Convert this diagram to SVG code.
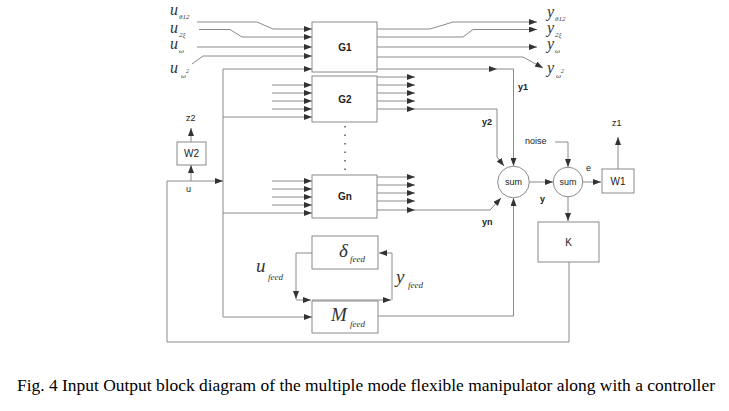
<svg xmlns="http://www.w3.org/2000/svg" width="729" height="411" viewBox="0 0 729 411">
<defs>
<marker id="ar" markerUnits="userSpaceOnUse" markerWidth="8" markerHeight="6" refX="8" refY="3" orient="auto">
<path d="M0,0 L8,3 L0,6 z" fill="#333"/>
</marker>
<style>
.ln{fill:none;stroke:#8a8a8a;stroke-width:1}
.ar{marker-end:url(#ar)}
.bx{fill:#fff;stroke:#8a8a8a;stroke-width:1}
.lb{font-family:"Liberation Sans",Arial,sans-serif;font-size:9px;fill:#222}
.gl{font-family:"Liberation Sans",Arial,sans-serif;font-size:10px;font-weight:bold;fill:#222;text-anchor:middle}
.m{font-family:"Liberation Serif","Times New Roman",serif;font-style:italic;fill:#333}
.cap{font-family:"Liberation Serif","Times New Roman",serif;font-size:17px;fill:#000}
</style>
</defs>
<rect width="729" height="411" fill="#fff"/>
<g id="connectors">
<path class="ln ar" d="M197,22 L257,22 L273,29 L312,29"/>
<path class="ln ar" d="M199,29.5 L230,29.5 L242,37 L312,37"/>
<path class="ln ar" d="M197,47 L312,47"/>
<path class="ln ar" d="M192,64 L203,56 L312,56"/>
<path class="ln ar" d="M223,69 L312,69"/>
<path class="ln" d="M223,69 L223,317"/>
<path class="ln ar" d="M223,117 L312,117"/>
<path class="ln ar" d="M223,213 L312,213"/>
<path class="ln ar" d="M223,317 L312,317"/>
<path class="ln ar" d="M167,181 L223,181"/>
<path class="ln ar" d="M191,181 L191,165"/>
<path class="ln ar" d="M191,142 L191,128"/>
<path class="ln" d="M569,262 L569,342 L167,342 L167,181"/>
<path class="ln ar" d="M272,85 L312,85"/>
<path class="ln ar" d="M272,93 L312,93"/>
<path class="ln ar" d="M272,101 L312,101"/>
<path class="ln ar" d="M272,109 L312,109"/>
<path class="ln ar" d="M272,181 L312,181"/>
<path class="ln ar" d="M272,189 L312,189"/>
<path class="ln ar" d="M272,197 L312,197"/>
<path class="ln ar" d="M272,205 L312,205"/>
<path class="ln ar" d="M377,29 L430,29 L453,22 L537,22"/>
<path class="ln ar" d="M377,37 L463,37 L473,29.5 L537,29.5"/>
<path class="ln ar" d="M377,47 L537,47"/>
<path class="ln ar" d="M377,57 L523,57 L543,68"/>
<path class="ln ar" d="M377,69 L497,69"/>
<path class="ln ar" d="M497,69 L513.5,69 L513.5,166"/>
<path class="ln ar" d="M377,77 L415,77"/>
<path class="ln ar" d="M377,85 L415,85"/>
<path class="ln ar" d="M377,93 L415,93"/>
<path class="ln ar" d="M377,101 L415,101"/>
<path class="ln ar" d="M377,109 L415,109"/>
<path class="ln ar" d="M415,109 L497,109 L497,157 L504,166"/>
<path class="ln ar" d="M377,177 L415,177"/>
<path class="ln ar" d="M377,185 L415,185"/>
<path class="ln ar" d="M377,193 L415,193"/>
<path class="ln ar" d="M377,201 L415,201"/>
<path class="ln ar" d="M377,210 L415,210"/>
<path class="ln ar" d="M415,210 L490,210 L501,198"/>
<path class="ln ar" d="M378,316 L513.5,316 L513.5,198"/>
<path class="ln ar" d="M529.5,182 L553,182"/>
<path class="ln ar" d="M555,142 L568,142 L568,167"/>
<path class="ln ar" d="M583,182 L601,182"/>
<path class="ln ar" d="M618,169 L618,137"/>
<path class="ln ar" d="M568,197 L568,221"/>
<path class="ln ar" d="M312,253 L296,253 L296,299"/>
<path class="ln ar" d="M296,300 L311,300"/>
<path class="ln ar" d="M312,300 L391,300"/>
<path class="ln ar" d="M392,300 L392,253 L379,253"/>
<path d="M345,126 L345,172" fill="none" stroke="#555" stroke-width="1.5" stroke-dasharray="1.5,7"/>
</g>
<g id="G1"><rect class="bx" x="312" y="22" width="65" height="50"/><text class="gl" x="345" y="51">G1</text></g>
<g id="G2"><rect class="bx" x="312" y="76" width="65" height="46"/><text class="gl" x="345" y="103">G2</text></g>
<g id="Gn"><rect class="bx" x="312" y="175" width="65" height="43"/><text class="gl" x="345" y="200">Gn</text></g>
<g id="W2"><rect class="bx" x="177" y="142" width="29" height="23"/><text class="gl" x="191.5" y="157" style="font-weight:normal">W2</text></g>
<g id="W1"><rect class="bx" x="602" y="169" width="32" height="24"/><text class="gl" x="618" y="185" style="font-weight:normal">W1</text></g>
<g id="K"><rect class="bx" x="538" y="222" width="61" height="40"/><text class="gl" x="568.5" y="246" style="font-weight:normal">K</text></g>
<g id="sum1"><circle class="bx" cx="513.5" cy="182" r="15.8"/><text class="lb" x="513.5" y="185" text-anchor="middle">sum</text></g>
<g id="sum2"><circle class="bx" cx="568" cy="182" r="14.8"/><text class="lb" x="568" y="185" text-anchor="middle">sum</text></g>
<g id="delta_feed"><rect class="bx" x="312" y="236" width="66" height="33"/>
<text class="m"><tspan x="339" y="257" font-size="19">δ</tspan><tspan x="350" y="262" font-size="9">feed</tspan></text></g>
<g id="M_feed"><rect class="bx" x="312" y="301" width="66" height="32"/>
<text class="m"><tspan x="331" y="321" font-size="19">M</tspan><tspan x="350" y="327" font-size="9">feed</tspan></text></g>
<g id="labels">
<text class="m"><tspan x="170" y="15" font-size="16">u</tspan><tspan x="179" y="19" font-size="7">θ12</tspan></text>
<text class="m"><tspan x="170" y="33" font-size="16">u</tspan><tspan x="179" y="37" font-size="7">2ξ</tspan></text>
<text class="m"><tspan x="170" y="49" font-size="16">u</tspan><tspan x="179" y="53" font-size="7">ω</tspan></text>
<text class="m"><tspan x="170" y="73" font-size="16">u</tspan><tspan x="181" y="78" font-size="7">ω</tspan><tspan x="186" y="73" font-size="6">2</tspan></text>
<text class="m"><tspan x="547" y="17" font-size="16">y</tspan><tspan x="555" y="21" font-size="7">θ12</tspan></text>
<text class="m"><tspan x="547" y="33" font-size="16">y</tspan><tspan x="555" y="37" font-size="7">2ξ</tspan></text>
<text class="m"><tspan x="547" y="49" font-size="16">y</tspan><tspan x="555" y="53" font-size="7">ω</tspan></text>
<text class="m"><tspan x="547" y="73" font-size="16">y</tspan><tspan x="556" y="78" font-size="7">ω</tspan><tspan x="561" y="73" font-size="6">2</tspan></text>
<text class="m"><tspan x="256" y="272" font-size="19">u</tspan><tspan x="268" y="280" font-size="9">feed</tspan></text>
<text class="m"><tspan x="396" y="283" font-size="19">y</tspan><tspan x="408" y="288" font-size="9">feed</tspan></text>
<text class="lb" x="518" y="90" font-weight="bold">y1</text>
<text class="lb" x="482" y="125" font-weight="bold">y2</text>
<text class="lb" x="482" y="225" font-weight="bold">yn</text>
<text class="lb" x="540" y="202" font-weight="bold">y</text>
<text class="lb" x="586" y="171">e</text>
<text class="lb" x="612" y="126">z1</text>
<text class="lb" x="186" y="121">z2</text>
<text class="lb" x="186" y="192">u</text>
<text class="lb" x="525" y="144">noise</text>
</g>
<text class="cap" x="17" y="391" textLength="698" lengthAdjust="spacingAndGlyphs">Fig. 4 Input Output block diagram of the multiple mode flexible manipulator along with a controller</text>
</svg>
